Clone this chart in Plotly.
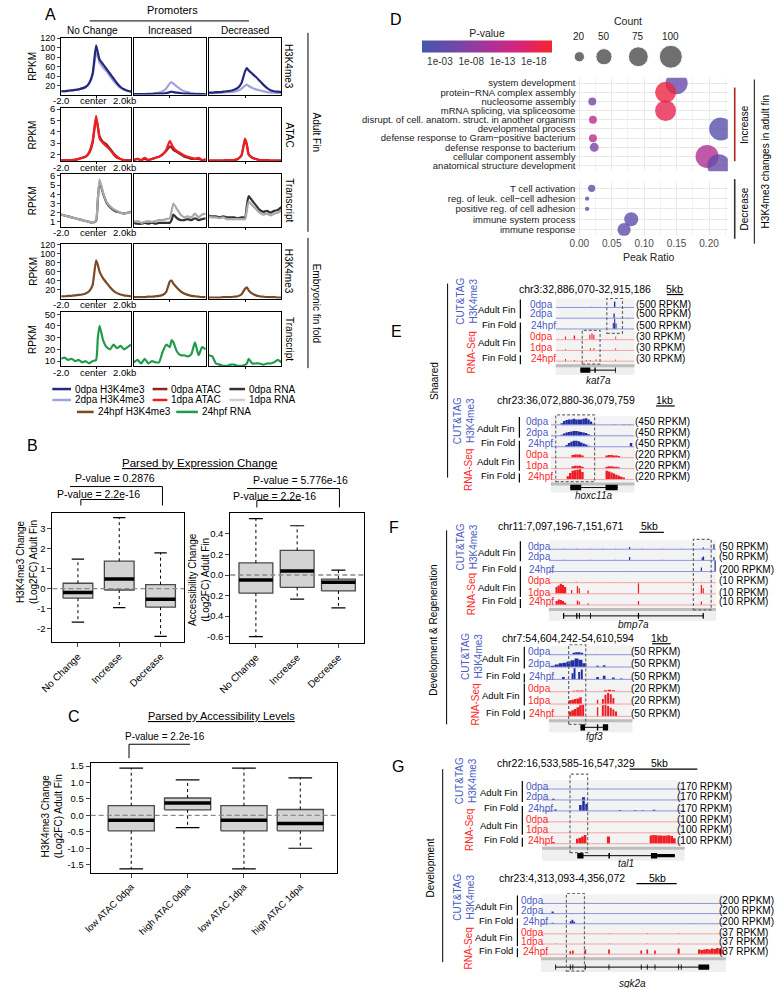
import plotly.graph_objects as go

W, H = 777, 988
FONT = "Liberation Sans, Arial, Helvetica, sans-serif"

# ================= Panel A : promoter profiles (RPKM) =================
A_X = [-2.0, -1.8, -1.6, -1.4, -1.2, -1.0, -0.8, -0.6, -0.4, -0.2, 0.0, 0.1,
       0.2, 0.4, 0.6, 0.8, 1.0, 1.2, 1.4, 1.6, 1.8, 2.0]
A_COLUMNS = ["No Change", "Increased", "Decreased"]
A_ROW_LABELS = ["H3K4me3", "ATAC", "Transcript", "H3K4me3", "Transcript"]

H3_0DPA = [[8, 8, 9, 10, 11, 12, 14, 17, 25, 45, 105, 90, 75, 65, 55, 45, 35, 25, 17, 12, 9, 7],
           [2, 2, 2, 2, 2, 2, 3, 3, 3, 4, 6, 7, 6, 5, 4, 3, 3, 2, 2, 2, 2, 2],
           [5, 5, 6, 6, 7, 8, 9, 11, 15, 25, 50, 57, 52, 45, 38, 30, 22, 15, 10, 8, 7, 6]]
H3_2DPA = [[8, 8, 9, 10, 11, 12, 14, 17, 24, 42, 88, 82, 68, 58, 50, 40, 30, 22, 15, 11, 9, 7],
           [2, 2, 2, 2, 3, 3, 4, 5, 8, 14, 25, 27, 24, 18, 12, 8, 6, 4, 3, 3, 2, 2],
           [4, 4, 4, 5, 5, 6, 6, 7, 9, 13, 20, 22, 19, 15, 12, 10, 8, 6, 5, 5, 4, 4]]
ATAC_0DPA = [[1.5, 1.5, 1.5, 1.5, 1.5, 1.6, 1.7, 1.8, 2.1, 3.0, 5.2, 4.5, 3.6, 3.1, 2.9, 2.5, 2.1, 1.8, 1.6, 1.5, 1.5, 1.5],
             [1.5, 1.6, 1.5, 1.6, 1.5, 1.6, 1.7, 1.8, 2.0, 2.3, 2.7, 2.6, 2.4, 2.2, 2.0, 1.8, 1.7, 1.6, 1.6, 1.6, 1.5, 1.5],
             [1.45, 1.45, 1.45, 1.45, 1.45, 1.5, 1.5, 1.5, 1.6, 1.9, 3.3, 2.8, 2.0, 1.7, 1.6, 1.5, 1.5, 1.5, 1.45, 1.45, 1.45, 1.45]]
ATAC_1DPA = [[1.5, 1.5, 1.5, 1.5, 1.55, 1.6, 1.7, 1.8, 2.2, 3.2, 5.4, 4.4, 3.4, 3.0, 2.7, 2.4, 2.0, 1.7, 1.6, 1.5, 1.5, 1.5],
             [1.5, 1.6, 1.5, 1.7, 1.5, 1.6, 1.7, 1.8, 2.0, 2.4, 3.2, 2.9, 2.6, 2.3, 2.1, 1.9, 1.8, 1.7, 1.6, 1.7, 1.5, 1.6],
             [1.45, 1.45, 1.45, 1.45, 1.45, 1.5, 1.5, 1.5, 1.6, 1.9, 3.4, 2.9, 2.0, 1.7, 1.6, 1.5, 1.5, 1.5, 1.45, 1.45, 1.45, 1.45]]
RNA_0DPA = [[1.8, 1.7, 1.6, 1.5, 1.4, 1.3, 1.2, 1.1, 1.0, 0.9, 1.1, 3.4, 5.4, 4.1, 3.1, 2.6, 2.3, 2.1, 2.0, 1.9, 2.0, 2.1],
            [0.9, 0.8, 0.8, 0.9, 0.8, 0.9, 0.8, 0.9, 0.9, 0.9, 0.9, 1.2, 1.8, 1.4, 1.2, 1.2, 1.3, 1.2, 1.4, 1.2, 1.3, 1.4],
            [1.7, 1.6, 1.6, 1.5, 1.6, 1.5, 1.5, 1.5, 1.4, 1.5, 1.5, 2.8, 3.8, 3.3, 2.8, 2.3, 2.1, 2.2, 2.0, 2.2, 2.3, 2.6]]
RNA_1DPA = [[1.8, 1.7, 1.6, 1.5, 1.4, 1.3, 1.2, 1.1, 1.0, 0.9, 1.2, 3.5, 5.6, 4.2, 3.2, 2.7, 2.4, 2.2, 2.0, 1.9, 2.0, 2.1],
            [1.0, 1.1, 0.9, 1.0, 1.1, 1.0, 1.1, 1.2, 1.2, 1.3, 1.4, 2.2, 3.0, 2.4, 1.8, 1.5, 1.6, 1.5, 1.9, 1.5, 1.8, 1.9],
            [1.6, 1.5, 1.5, 1.4, 1.5, 1.3, 1.3, 1.3, 1.3, 1.3, 1.3, 2.3, 3.2, 2.8, 2.4, 2.0, 1.8, 1.9, 1.7, 1.9, 2.0, 2.3]]
H3_24HPF = [[5, 5, 6, 6, 7, 8, 9, 11, 16, 30, 85, 75, 60, 45, 35, 25, 17, 12, 9, 7, 6, 5],
            [3, 3, 3, 3, 4, 4, 5, 6, 8, 15, 38, 40, 33, 24, 16, 11, 8, 6, 5, 4, 3, 3],
            [2, 2, 2, 2, 3, 3, 3, 4, 5, 9, 22, 25, 18, 11, 7, 5, 4, 3, 3, 3, 2, 2]]
RNA_24HPF = [[12, 13, 11, 12, 10, 11, 9, 10, 8, 10, 11, 30, 40, 28, 22, 20, 24, 21, 23, 20, 22, 24],
             [9, 11, 8, 12, 8, 10, 9, 9, 18, 24, 22, 28, 26, 18, 15, 15, 14, 16, 26, 15, 22, 20],
             [15, 14, 8, 7, 6, 6, 7, 7, 6, 6, 7, 8, 12, 8, 8, 8, 7, 8, 8, 9, 11, 9]]

A_LEGEND = [["0dpa H3K4me3", "0dpa ATAC", "0dpa RNA"],
            ["2dpa H3K4me3", "1dpa ATAC", "1dpa RNA"],
            ["24hpf H3K4me3", "24hpf RNA"]]

# ================= Panel B / C : boxplot statistics =================
B_CATS = ["No Change", "Increase", "Decrease"]
B1_LOW = [-1.68, -0.95, -2.40]
B1_Q1 = [-0.48, -0.07, -0.93]
B1_MED = [-0.20, 0.48, -0.53]
B1_Q3 = [0.27, 1.38, 0.20]
B1_HIGH = [1.48, 3.57, 1.80]
B1_PVAL = ["P-value = 0.2876", "P-value = 2.2e-16"]

B2_LOW = [-0.60, -0.235, -0.32]
B2_Q1 = [-0.177, -0.12, -0.155]
B2_MED = [-0.048, 0.04, -0.07]
B2_Q3 = [0.118, 0.24, -0.04]
B2_HIGH = [0.55, 0.48, 0.048]
B2_PVAL = ["P-value = 5.776e-16", "P-value = 2.2e-16"]

C_CATS = ["low ATAC 0dpa", "high ATAC 0dpa", "low ATAC 1dpa", "high ATAC 1dpa"]
C_LOW = [-1.63, -0.37, -1.63, -1.00]
C_Q1 = [-0.47, 0.17, -0.47, -0.47]
C_MED = [-0.15, 0.38, -0.15, -0.25]
C_Q3 = [0.295, 0.53, 0.295, 0.18]
C_HIGH = [1.44, 1.08, 1.44, 1.14]
C_PVAL = "P-value = 2.2e-16"

# ================= Panel D : GO enrichment dot plot =================
D_TERMS_UP = ["system development", "protein\u2212RNA complex assembly", "nucleosome assembly",
              "mRNA splicing, via spliceosome", "disrupt. of cell. anatom. struct. in another organism",
              "developmental process", "defense response to Gram\u2212positive bacterium",
              "defense response to bacterium", "cellular component assembly",
              "anatomical structure development"]
D_RATIO_UP = [0.150, 0.133, 0.020, 0.133, 0.021, 0.218, 0.021, 0.023, 0.197, 0.215]
D_LOGP_UP = [4.5, 19.5, 6.0, 18.5, 13.0, 2.5, 12.0, 6.5, 11.5, 4.5]
D_COUNT_UP = [92, 83, 12, 83, 12, 100, 12, 15, 100, 100]
D_TERMS_DN = ["T cell activation", "reg. of leuk. cell\u2212cell adhesion", "positive reg. of cell adhesion",
              "immune system process", "immune response"]
D_RATIO_DN = [0.019, 0.012, 0.012, 0.080, 0.069]
D_LOGP_DN = [4.0, 3.0, 3.0, 3.5, 4.0]
D_COUNT_DN = [10, 3.5, 3.5, 37, 33]
D_PTICKS = [3, 8, 13, 18]
D_PTICK_TEXT = ["1e-03", "1e-08", "1e-13", "1e-18"]
D_COUNT_LEGEND = [20, 50, 75, 100]
D_RATIO_TICKS = [0.0, 0.05, 0.10, 0.15, 0.20]

# ================= Panels E-G : genome browser loci =================
LOCUS_NAMES = ["kat7a", "hoxc11a", "bmp7a", "fgf3", "tal1", "sgk2a"]
LOCUS_COORDS = ["chr3:32,886,070-32,915,186", "chr23:36,072,880-36,079,759",
                "chr11:7,097,196-7,151,671", "chr7:54,604,242-54,610,594",
                "chr22:16,533,585-16,547,329", "chr23:4,313,093-4,356,072"]
LOCUS_KB = [29.12, 6.88, 54.48, 6.35, 13.74, 42.98]
LOCUS_SCALE = ["5kb", "1kb", "5kb", "1kb", "5kb", "5kb"]
RPKM_H3 = [[500, 500, 500], [450, 450, 450], [50, 50, 200], [50, 50, 50], [170, 170, 170], [200, 200, 200]]
RPKM_RNA = [[30, 30, 30], [220, 220, 220], [10, 10, 10], [20, 20, 50], [100, 100, 100], [37, 37, 37]]
H3_TRACKS = ["0dpa", "2dpa", "24hpf"]
RNA_TRACKS = ["0dpa", "1dpa", "24hpf"]

# peaks: (position kb, width kb, height as fraction of track scale)
KAT7A_H3 = [[(13.1, 0.3, 0.06), (21.8, 0.5, 0.55), (26.5, 0.4, 0.04), (28.0, 0.4, 0.04)],
            [(21.6, 0.5, 0.45), (26.5, 0.4, 0.05)],
            [(21.3, 0.4, 0.55), (21.8, 0.4, 0.95), (22.3, 0.4, 0.5)]]
KAT7A_RNA = [[(3.6, 0.4, 0.3), (6.9, 0.5, 0.4), (12.6, 0.4, 0.45), (13.4, 0.4, 0.6), (14.1, 0.4, 0.45), (22.2, 0.3, 0.3)],
             [(3.6, 0.4, 0.1), (12.8, 0.4, 0.2), (14.1, 0.4, 0.2), (22.2, 0.3, 0.2)],
             [(3.6, 0.4, 0.2), (6.9, 0.4, 0.1), (11.3, 0.4, 0.1), (12.8, 0.4, 0.1), (14.9, 0.4, 0.15), (22.2, 0.3, 0.15)]]
KAT7A_EXONS = [(9.1, 12.8, 1), (14.3, 14.8, 1), (22.0, 22.3, 1)]

HOXC11A_H3 = [[(0.9, 0.2, 0.15), (1.1, 0.2, 0.35), (1.3, 0.2, 0.45), (1.5, 0.2, 0.5), (1.7, 0.2, 0.5), (1.9, 0.2, 0.55),
               (2.1, 0.2, 0.5), (2.3, 0.2, 0.5), (2.5, 0.2, 0.5), (2.7, 0.2, 0.55), (2.9, 0.2, 0.6), (3.1, 0.2, 0.5),
               (3.3, 0.2, 0.3), (3.5, 0.2, 0.1), (5.2, 0.3, 0.04), (6.0, 0.3, 0.04), (6.5, 0.3, 0.04)],
              [(0.9, 0.2, 0.1), (1.1, 0.2, 0.2), (1.3, 0.2, 0.3), (1.5, 0.2, 0.35), (1.7, 0.2, 0.4), (1.9, 0.2, 0.45),
               (2.1, 0.2, 0.45), (2.3, 0.2, 0.4), (2.5, 0.2, 0.35), (2.7, 0.2, 0.3), (2.9, 0.2, 0.25), (3.1, 0.2, 0.15),
               (3.3, 0.2, 0.05)],
              [(1.3, 0.2, 0.15), (1.5, 0.2, 0.35), (1.7, 0.2, 0.45), (1.9, 0.2, 0.55), (2.1, 0.2, 0.55), (2.3, 0.2, 0.5),
               (2.5, 0.2, 0.4), (2.7, 0.2, 0.3), (2.9, 0.2, 0.2), (3.1, 0.2, 0.1), (6.6, 0.2, 0.35)]]
HOXC11A_RNA = [[(1.8, 0.2, 0.25), (2.0, 0.2, 0.3), (2.2, 0.2, 0.3), (2.4, 0.2, 0.3), (2.6, 0.2, 0.2),
                (4.6, 0.2, 0.2), (4.8, 0.2, 0.25), (5.0, 0.2, 0.25), (5.2, 0.2, 0.2), (5.4, 0.2, 0.2), (5.6, 0.2, 0.15)],
               [(1.8, 0.2, 0.22), (2.0, 0.2, 0.27), (2.2, 0.2, 0.27), (2.4, 0.2, 0.27), (2.6, 0.2, 0.18),
                (4.6, 0.2, 0.18), (4.8, 0.2, 0.22), (5.0, 0.2, 0.22), (5.2, 0.2, 0.18), (5.4, 0.2, 0.17), (5.6, 0.2, 0.12)],
               [(1.4, 0.2, 0.3), (1.6, 0.2, 0.6), (1.8, 0.2, 0.8), (2.0, 0.2, 0.85), (2.2, 0.2, 0.9), (2.4, 0.2, 0.95),
                (2.6, 0.2, 0.7), (4.6, 0.2, 0.8), (4.8, 0.2, 0.75), (5.0, 0.2, 0.65), (5.2, 0.2, 0.55), (5.4, 0.2, 0.45),
                (5.6, 0.2, 0.35), (5.8, 0.2, 0.25), (6.0, 0.2, 0.2)]]
HOXC11A_EXONS = [(1.6, 2.5, 1), (4.5, 5.5, 1)]

BMP7A_H3 = [[(4.8, 0.3, 0.05), (9.0, 0.3, 0.05), (13.5, 0.3, 0.05), (17.6, 0.3, 0.05), (21.8, 0.3, 0.05),
             (26.3, 0.4, 0.2), (30.4, 0.3, 0.05), (36.9, 0.3, 0.05), (43.3, 0.3, 0.05), (50.3, 0.4, 0.15), (53.8, 0.4, 0.45)],
            [(4.8, 0.3, 0.05), (13.5, 0.3, 0.05), (21.8, 0.3, 0.05), (26.3, 0.4, 0.3), (36.9, 0.3, 0.05),
             (50.0, 0.4, 0.25), (50.4, 0.4, 0.35), (53.8, 0.4, 0.3)],
            [(26.3, 0.3, 0.05), (49.7, 0.4, 0.35), (54.2, 0.4, 0.95)]]
BMP7A_RNA = [[(4.8, 0.3, 0.08), (7.0, 0.3, 0.06), (9.0, 0.3, 0.08), (13.5, 0.3, 0.06), (20.0, 0.3, 0.05),
              (26.3, 0.3, 0.05), (29.2, 0.3, 0.06), (49.7, 0.3, 0.08)],
             [(2.5, 0.7, 0.6), (3.2, 0.7, 0.75), (3.9, 0.7, 0.9), (4.6, 0.7, 0.8), (5.3, 0.7, 0.6), (7.4, 0.4, 0.35),
              (9.3, 0.4, 0.7), (9.9, 0.4, 0.5), (12.8, 0.4, 0.3), (29.2, 0.4, 0.95), (49.7, 0.4, 0.8), (50.3, 0.4, 0.5)],
             [(2.5, 0.7, 0.35), (3.2, 0.7, 0.5), (3.9, 0.7, 0.45), (4.6, 0.7, 0.35), (5.3, 0.7, 0.2), (9.3, 0.4, 0.4),
              (9.9, 0.4, 0.3), (12.8, 0.4, 0.15), (29.2, 0.4, 0.35), (49.7, 0.4, 0.3)]]
BMP7A_EXONS = [(4.6, 5.0, 1), (8.9, 9.3, 1), (9.8, 10.1, 1), (13.4, 13.7, 1), (29.0, 29.4, 1), (50.1, 50.5, 1)]

FGF3_H3 = [[(1.9, 0.2, 0.15), (2.1, 0.2, 0.2), (2.3, 0.2, 0.2), (2.5, 0.2, 0.15), (3.5, 0.2, 0.04)],
           [(0.3, 0.3, 0.1), (0.6, 0.3, 0.2), (0.9, 0.3, 0.3), (1.2, 0.3, 0.35), (1.5, 0.3, 0.45), (1.8, 0.3, 0.55),
            (2.1, 0.3, 0.7), (2.4, 0.3, 0.6), (2.7, 0.3, 0.3), (3.7, 0.2, 0.1), (4.2, 0.2, 0.15)],
           [(1.1, 0.2, 0.2), (1.8, 0.15, 0.5), (1.95, 0.15, 0.9), (2.3, 0.15, 0.6), (2.5, 0.15, 0.8), (3.7, 0.2, 0.2),
            (4.2, 0.2, 0.3), (4.9, 0.2, 0.15), (5.5, 0.2, 0.08)]]
FGF3_RNA = [[(1.9, 0.25, 0.08), (2.2, 0.25, 0.1), (2.5, 0.25, 0.1), (4.3, 0.25, 0.12), (4.6, 0.25, 0.15), (4.9, 0.25, 0.12)],
            [(1.6, 0.2, 0.3), (1.8, 0.2, 0.35), (2.0, 0.2, 0.4), (2.2, 0.2, 0.45), (2.4, 0.2, 0.55), (3.7, 0.1, 0.35),
             (4.1, 0.15, 0.4), (4.3, 0.15, 0.75), (4.5, 0.15, 0.9), (4.7, 0.15, 0.8), (4.9, 0.15, 0.5)],
            [(1.6, 0.2, 0.4), (1.8, 0.2, 0.5), (2.0, 0.2, 0.6), (2.2, 0.2, 0.75), (2.4, 0.2, 0.9), (2.6, 0.15, 0.95),
             (3.7, 0.1, 0.75), (4.1, 0.15, 0.9), (4.3, 0.15, 0.95), (4.5, 0.15, 0.85), (4.7, 0.15, 0.7),
             (4.9, 0.15, 0.55), (5.1, 0.15, 0.4)]]
FGF3_EXONS = [(2.4, 2.75, 1), (3.65, 3.75, 1), (4.1, 4.5, 1)]

TAL1_H3 = [[],
           [(1.1, 0.25, 0.12), (4.0, 0.3, 0.25)],
           [(1.3, 0.25, 0.12), (3.7, 0.25, 0.55), (4.0, 0.25, 0.95), (4.3, 0.25, 0.65), (7.5, 0.25, 0.08),
            (9.0, 0.25, 0.05), (9.7, 0.25, 0.05), (10.8, 0.25, 0.1)]]
TAL1_RNA = [[], [],
            [(1.1, 0.25, 0.15), (3.4, 0.25, 0.45), (3.65, 0.25, 0.55), (3.9, 0.25, 0.65), (4.15, 0.25, 0.8),
             (6.4, 0.3, 0.65), (10.5, 0.25, 0.75), (10.75, 0.25, 0.8), (11.0, 0.25, 0.78), (11.25, 0.25, 0.75),
             (11.5, 0.25, 0.75), (11.75, 0.25, 0.72), (12.0, 0.25, 0.75), (12.25, 0.25, 0.78), (12.5, 0.25, 0.7),
             (12.75, 0.25, 0.5)]]
TAL1_EXONS = [(3.4, 4.0, 1), (6.4, 6.55, 1), (10.5, 11.1, 1), (11.1, 12.8, 0.6)]

SGK2A_H3 = [[(16.0, 0.3, 0.05), (24.7, 0.3, 0.05), (35.7, 0.3, 0.05)],
            [(2.7, 0.5, 0.2), (16.0, 0.3, 0.05), (24.7, 0.3, 0.05)],
            [(2.7, 0.5, 0.1), (6.9, 0.4, 0.25), (7.3, 0.4, 0.4), (7.7, 0.4, 0.2), (35.4, 0.3, 0.05)]]
SGK2A_RNA = [[(16.0, 0.3, 0.08), (24.7, 0.3, 0.08), (32.0, 0.3, 0.08)],
             [(3.4, 0.3, 0.05), (16.0, 0.3, 0.06), (24.7, 0.3, 0.06), (32.0, 0.3, 0.06)],
             [(6.8, 0.4, 0.3), (7.4, 0.4, 0.35), (10.3, 0.4, 0.45), (15.8, 0.4, 0.45), (23.3, 0.4, 0.35),
              (24.7, 0.4, 0.45), (26.5, 0.4, 0.35), (32.0, 0.5, 0.55), (36.8, 0.6, 0.45), (37.4, 0.6, 0.4),
              (38.0, 0.6, 0.45), (38.6, 0.6, 0.5), (39.2, 0.6, 0.45), (39.8, 0.6, 0.55), (40.4, 0.6, 0.5),
              (41.0, 0.6, 0.6), (41.6, 0.6, 0.55), (42.2, 0.6, 0.45)]]
SGK2A_EXONS = [(3.3, 3.5, 1), (6.7, 6.9, 1), (7.3, 7.5, 1), (10.2, 10.4, 1), (15.7, 15.9, 1), (23.2, 23.4, 1),
               (24.6, 24.8, 1), (26.4, 26.6, 1), (31.9, 32.1, 1), (32.5, 32.7, 1), (36.6, 39.1, 1)]

LOCUS_H3 = [KAT7A_H3, HOXC11A_H3, BMP7A_H3, FGF3_H3, TAL1_H3, SGK2A_H3]
LOCUS_RNA = [KAT7A_RNA, HOXC11A_RNA, BMP7A_RNA, FGF3_RNA, TAL1_RNA, SGK2A_RNA]
LOCUS_EXONS = [KAT7A_EXONS, HOXC11A_EXONS, BMP7A_EXONS, FGF3_EXONS, TAL1_EXONS, SGK2A_EXONS]
LOCUS_HIGHLIGHT_KB = [[(18.9, 24.7), (9.8, 16.4)], [(0.4, 3.6)], [(47.1, 52.9)], [(1.5, 2.8)], [(2.7, 4.4)], [(5.9, 10.1)]]
GROUP_LABELS = ["Shaared", "Development &amp; Regeneration", "Development"]

# ================= helpers =================
fig = go.Figure()
ann, shapes, axes = [], [], {}
counter = [0]


def X(p):
    return p / W


def Y(p):
    return 1 - p / H


def add_axes(xd, yd, xr, yr, xopt=None, yopt=None):
    counter[0] += 1
    s = '' if counter[0] == 1 else str(counter[0])
    base = dict(showgrid=False, zeroline=False, showticklabels=False, ticks='', fixedrange=True, showline=False)
    xa = dict(base, domain=[X(xd[0]), X(xd[1])], range=xr, anchor='y' + s)
    ya = dict(base, domain=[Y(yd[1]), Y(yd[0])], range=yr, anchor='x' + s)
    if xopt:
        xa.update(xopt)
    if yopt:
        ya.update(yopt)
    axes['xaxis' + s] = xa
    axes['yaxis' + s] = ya
    return 'x' + s, 'y' + s


def text(x, y, s, size=10, color='black', xa='center', ya='middle', angle=0):
    ann.append(dict(x=X(x), y=Y(y), xref='paper', yref='paper', text=s, showarrow=False,
                    font=dict(size=size, color=color, family=FONT), xanchor=xa, yanchor=ya,
                    textangle=angle, borderpad=0))


def seg(x0, y0, x1, y1, color='black', width=1, dash='solid'):
    shapes.append(dict(type='line', xref='paper', yref='paper', x0=X(x0), y0=Y(y0), x1=X(x1), y1=Y(y1),
                       line=dict(color=color, width=width, dash=dash)))


def rect(x0, y0, x1, y1, fill):
    shapes.append(dict(type='rect', xref='paper', yref='paper', x0=X(x0), y0=Y(y1), x1=X(x1), y1=Y(y0),
                       fillcolor=fill, line=dict(width=0), layer='below'))


FRAME = dict(showline=True, mirror=True, linecolor='black', linewidth=1)

# ================= Panel A =================
C_H3_0, C_H3_2 = '#25297c', '#a1a3df'
C_AT_0, C_AT_1 = '#8e2424', '#f01e23'
C_RNA_0, C_RNA_1 = '#333333', '#a9a9a9'
C_BROWN, C_GREEN = '#7a4a26', '#229a4c'

A_COLX = [(49, 120), (123, 196), (199, 273)]
A_ROWY = [(33, 90), (104, 157), (170, 223), (240, 295), (309, 363)]
A_ROWS = [
    ([(H3_2DPA, C_H3_2), (H3_0DPA, C_H3_0)], [1, 121], [20, 40, 60, 80, 100, 120]),
    ([(ATAC_0DPA, C_AT_0), (ATAC_1DPA, C_AT_1)], [1.4, 6.05], [2, 3, 4, 5, 6]),
    ([(RNA_0DPA, C_RNA_0), (RNA_1DPA, C_RNA_1)], [0.46, 6.2], [1, 2, 3, 4, 5, 6]),
    ([(H3_24HPF, C_BROWN)], [0, 122], [20, 40, 60, 80, 100, 120]),
    ([(RNA_24HPF, C_GREEN)], [5.7, 51.5], [10, 20, 30, 40, 50]),
]
for r, (series, yr, yt) in enumerate(A_ROWS):
    for c in range(3):
        xo = dict(FRAME, tickvals=[0], ticks='outside', ticklen=2, tickcolor='black')
        yo = dict(FRAME)
        if c == 0:
            yo.update(tickvals=yt, ticks='outside', ticklen=3, showticklabels=True,
                      tickfont=dict(size=9 if len(yt) == 6 and yt[-1] > 10 else 9.5, color='black', family=FONT))
        xa, ya = add_axes(A_COLX[c], A_ROWY[r], [-2, 2], yr, xo, yo)
        for vals, col in series:
            fig.add_trace(go.Scatter(x=A_X, y=vals[c], mode='lines', line=dict(color=col, width=2.2, shape='spline', smoothing=0.5),
                                     xaxis=xa, yaxis=ya, hoverinfo='skip'))
    yb = A_ROWY[r][1]
    text(49, yb + 6, "-2.0", 9.5)
    text(81, yb + 6, "center", 9.5)
    text(113, yb + 6, "2.0kb", 9.5)
    text(20, (A_ROWY[r][0] + A_ROWY[r][1]) / 2, "RPKM", 10, angle=-90)
    text(281, (A_ROWY[r][0] + A_ROWY[r][1]) / 2, A_ROW_LABELS[r], 10, angle=90)

for c, name in enumerate(A_COLUMNS):
    text((A_COLX[c][0] + A_COLX[c][1]) / 2 - (4 if c == 0 else 0), 26, name, 10)
text(162, 5, "Promoters", 11)
seg(78, 16, 240, 16, width=1)
seg(300, 28, 300, 228, width=1)
text(309, 128, "Adult Fin", 10, angle=90)
seg(300, 234, 300, 365, width=1)
text(309, 300, "Embryonic fin fold", 10, angle=90)

LEG_POS = [[(40, 59, 386), (142, 157, 386), (220, 236, 386)],
           [(40, 59, 397), (142, 157, 397), (220, 236, 397)],
           [(65, 82, 409), (166, 188, 409)]]
LEG_COL = [[C_H3_0, C_AT_0, C_RNA_0], [C_H3_2, C_AT_1, '#cfcfcf'], [C_BROWN, C_GREEN]]
for i, row in enumerate(A_LEGEND):
    for j, name in enumerate(row):
        x0, x1, yy = LEG_POS[i][j]
        seg(x0, yy, x1, yy, LEG_COL[i][j], 2.5)
        text(x1 + 3, yy, name, 10, xa='left')

# ================= Panels B & C (boxplots) =================


def boxpanel(xd, yd, xr, yr, cats, low, q1, med, q3, high, half, cap, yticks, tickfmt, catsize=10):
    xo = dict(FRAME, tickvals=list(range(len(cats))), ticktext=cats, tickangle=-45, ticks='outside', ticklen=4,
              showticklabels=True, tickfont=dict(size=catsize, color='black', family=FONT))
    yo = dict(FRAME, tickvals=yticks, ticktext=[tickfmt(v) for v in yticks], ticks='outside',
              ticklen=4, showticklabels=True, tickfont=dict(size=9.5, color='black', family=FONT))
    xa, ya = add_axes(xd, yd, xr, yr, xo, yo)
    for i in range(len(cats)):
        fig.add_trace(go.Scatter(x=[i - half, i + half, i + half, i - half, i - half],
                                 y=[q1[i], q1[i], q3[i], q3[i], q1[i]], mode='lines', fill='toself',
                                 fillcolor='#d3d3d3', line=dict(color='#4a4a4a', width=1.3),
                                 xaxis=xa, yaxis=ya, hoverinfo='skip'))
    wx, wy, cx, cy, mx, my = [], [], [], [], [], []
    for i in range(len(cats)):
        wx += [i, i, None, i, i, None]
        wy += [q3[i], high[i], None, q1[i], low[i], None]
        cx += [i - cap, i + cap, None, i - cap, i + cap, None]
        cy += [high[i], high[i], None, low[i], low[i], None]
        mx += [i - half, i + half, None]
        my += [med[i], med[i], None]
    fig.add_trace(go.Scatter(x=wx, y=wy, mode='lines', line=dict(color='black', width=1, dash='3px,3px'),
                             xaxis=xa, yaxis=ya, hoverinfo='skip'))
    fig.add_trace(go.Scatter(x=cx, y=cy, mode='lines', line=dict(color='black', width=1.2),
                             xaxis=xa, yaxis=ya, hoverinfo='skip'))
    fig.add_trace(go.Scatter(x=mx, y=my, mode='lines', line=dict(color='black', width=3.5),
                             xaxis=xa, yaxis=ya, hoverinfo='skip'))
    shapes.append(dict(type='line', xref=xa + ' domain', yref=ya, x0=0, x1=1, y0=0, y1=0,
                       line=dict(color='#8a8a8a', width=1.3, dash='5px,3px'), layer='above'))


boxpanel((40, 174), (511, 640), [-0.62, 2.57], [-2.67, 3.78], B_CATS, B1_LOW, B1_Q1, B1_MED, B1_Q3, B1_HIGH,
         0.36, 0.15, [-2, -1, 0, 1, 2, 3], lambda v: str(v))
boxpanel((221, 357), (511, 641), [-0.62, 2.62], [-0.66, 0.60], B_CATS, B2_LOW, B2_Q1, B2_MED, B2_Q3, B2_HIGH,
         0.41, 0.17, [-0.6, -0.4, -0.2, 0.0, 0.2, 0.4], lambda v: "%.1f" % v)
boxpanel((79, 330), (762, 872), [-0.72, 3.66], [-1.74, 1.59], C_CATS, C_LOW, C_Q1, C_MED, C_Q3, C_HIGH,
         0.41, 0.21, [-1.5, -1.0, -0.5, 0.0, 0.5, 1.0, 1.5], lambda v: "%.1f" % v, catsize=9.5)

text(20, 443, "B", 16)
text(190, 460, "<u>Parsed by Expression Change</u>", 11.5)
text(14, 560, "H3K4me3 Change<br>(Log2FC) Adult Fin", 10, angle=-90)
text(189, 577, "Accessibility Change<br>(Log2FC) Adult Fin", 10, angle=-90)
text(104, 475, B1_PVAL[0], 10.5)
seg(58, 484, 152, 484)
seg(152, 484, 152, 503)
text(87, 491, B1_PVAL[1], 10.5)
seg(69, 497, 113, 497)
seg(69, 497, 69, 503)
text(292, 477, B2_PVAL[0], 10.5)
seg(238, 486, 332, 486)
seg(332, 486, 332, 505)
text(266, 493, B2_PVAL[1], 10.5)
seg(248, 498, 293, 498)
seg(248, 498, 248, 505)

text(62, 715, "C", 16)
text(212, 715, "<u>Parsed by Accessibility Levels</u>", 11)
text(155, 735, C_PVAL, 10)
seg(118, 743, 180, 743)
seg(118, 743, 118, 757)
text(40, 815, "H3K4me3 Change<br>(Log2FC) Adult Fin", 10, angle=-90)

# ================= Panel D =================
CS = [[0.0, '#4456b0'], [0.25, '#6e49a8'], [0.5, '#a8329a'], [0.75, '#d8237a'], [1.0, '#f4262c']]
CMIN, CMAX = 0.13, 20.9
SIZEREF = 2.0 * 100 / 23 ** 2
DX = [-0.0045, 0.229]
grid_x = dict(showgrid=True, gridcolor='#e8e8e8', gridwidth=1, tickvals=D_RATIO_TICKS,
              minor=dict(tickvals=[0.025, 0.075, 0.125, 0.175, 0.225], showgrid=True, gridcolor='#f3f3f3'))
cat_font = dict(size=9.5, color='#1a1a1a', family=FONT)
xa, ya = add_axes((573, 727), (73, 167), DX, [len(D_TERMS_UP) - 0.4, -0.6], dict(grid_x),
                  dict(type='category', categoryorder='array', categoryarray=D_TERMS_UP, showgrid=True,
                       gridcolor='#e8e8e8', showticklabels=True, tickmode='array', tickvals=D_TERMS_UP,
                       ticktext=D_TERMS_UP, tickfont=cat_font))
fig.add_trace(go.Scatter(x=D_RATIO_UP, y=D_TERMS_UP, mode='markers', xaxis=xa, yaxis=ya, hoverinfo='skip',
                         marker=dict(size=D_COUNT_UP, sizemode='area', sizeref=SIZEREF, color=D_LOGP_UP,
                                     cmin=CMIN, cmax=CMAX, colorscale=CS, opacity=0.8, line=dict(width=0),
                                     showscale=True,
                                     colorbar=dict(orientation='h', x=X(482), y=Y(41), xanchor='center',
                                                   yanchor='middle', len=130, lenmode='pixels', thickness=12,
                                                   xpad=0, ypad=0, outlinewidth=0, tickvals=D_PTICKS,
                                                   ticktext=D_PTICK_TEXT, tickangle=0,
                                                   ticks='', tickfont=dict(size=10, color='#333', family=FONT),
                                                   title=dict(text='P-value', side='top',
                                                              font=dict(size=10.5, color='#222', family=FONT))))))
xa, ya = add_axes((573, 727), (178, 232), DX, [len(D_TERMS_DN) - 0.4, -0.6],
                  dict(grid_x, showticklabels=True, ticktext=["%.2f" % v for v in D_RATIO_TICKS],
                       tickfont=dict(size=10, color='#4d4d4d', family=FONT)),
                  dict(type='category', categoryorder='array', categoryarray=D_TERMS_DN, showgrid=True,
                       gridcolor='#e8e8e8', showticklabels=True, tickmode='array', tickvals=D_TERMS_DN,
                       ticktext=D_TERMS_DN, tickfont=cat_font))
fig.add_trace(go.Scatter(x=D_RATIO_DN, y=D_TERMS_DN, mode='markers', xaxis=xa, yaxis=ya, hoverinfo='skip',
                         marker=dict(size=D_COUNT_DN, sizemode='area', sizeref=SIZEREF, color=D_LOGP_DN,
                                     cmin=CMIN, cmax=CMAX, colorscale=CS, opacity=0.8, line=dict(width=0),
                                     showscale=False)))
# count legend
LEG_X = [576, 601, 636, 669]
xa, ya = add_axes((560, 690), (40, 64), [560, 690], [0, 1])
fig.add_trace(go.Scatter(x=LEG_X, y=[0.5] * 4, mode='markers', xaxis=xa, yaxis=ya, hoverinfo='skip',
                         marker=dict(size=D_COUNT_LEGEND, sizemode='area', sizeref=SIZEREF, color='#333333')))
for lx, n in zip(LEG_X, D_COUNT_LEGEND):
    text(lx, 32, str(n), 10, '#222')
text(625, 16, "Count", 10.5, '#222')
text(647, 253, "Peak Ratio", 10.5, '#222')
seg(734, 83, 734, 157, '#b22222', 1.6)
text(744, 120, "Increase", 10, angle=-90)
seg(734, 175, 734, 235, '#333', 1.6)
text(744, 205, "Decrease", 10, angle=-90)
seg(754, 75, 754, 240, '#333', 1.2)
text(765, 158, "H3K4me3 changes in adult fin", 10, angle=-90)

# ================= Panels E-G (genome tracks) =================
BLUE, BLUE_L, BLUE_T = '#1f2ea3', '#8e95de', '#4d5cc2'
RED, RED_L, RED_T = '#ee1c24', '#f6a3a3', '#ff2a2a'
GEOM = [
    dict(x0=552, x1=632, base=[304, 313, 325, 336, 347, 358], gene=367, name=377, title=(582, 285), scale=(673, 665, 682),
         lab=537, adult=513, rpkm=633, side=462, cut=298, rna=349, boxy=[(295, 330), (327, 361)]),
    dict(x0=547, x1=632, base=[422, 433, 444, 455, 466, 477], gene=485, name=493, title=(562, 397), scale=(663, 654, 673),
         lab=533, adult=512, rpkm=632, side=459, cut=418, rna=467, boxy=[(412, 479)]),
    dict(x0=545, x1=715, base=[547, 557, 570, 581, 593, 603], gene=614, name=623, title=(557, 524), scale=(647, 637, 662),
         lab=535, adult=513, rpkm=717, side=462, cut=545, rna=592, boxy=[(537, 608)]),
    dict(x0=545, x1=630, base=[653, 665, 678, 690, 702, 715], gene=726, name=735, title=(564, 636), scale=(658, 650, 669),
         lab=535, adult=517, rpkm=627, side=466, cut=655, rna=703, boxy=[(643, 723)]),
    dict(x0=538, x1=683, base=[788, 799, 811, 822, 832, 843], gene=855, name=863, title=(562, 762), scale=(657, 627, 696),
         lab=533, adult=515, rpkm=674, side=461, cut=780, rna=829, boxy=[(773, 852)]),
    dict(x0=537, x1=725, base=[903, 913, 924, 935, 944, 954], gene=967, name=983, title=(558, 877), scale=(655, 634, 675),
         lab=528, adult=510, rpkm=717, side=459, cut=897, rna=948, boxy=[(893, 971)]),
]
for k, g in enumerate(GEOM):
    L = LOCUS_KB[k]
    b = g['base']
    s = (b[5] - b[0]) / 5.0
    top, bottom = b[0] - s, g['gene'] + 5
    xa, ya = add_axes((g['x0'], g['x1']), (top, bottom), [0, L], [-(bottom - b[0]) / s, 1.0])
    rect(g['x0'], b[0] - 9, g['x1'], b[5] + 3, '#f3f3f3')
    rect(g['x0'], b[5] + 3, g['x1'], g['gene'] + 5, '#efefef')
    rect(g['x0'], b[5] + 3, g['x1'], b[5] + 6, '#bdbdbd')
    tracks = LOCUS_H3[k] + LOCUS_RNA[k]
    for i, peaks in enumerate(tracks):
        col, lcol = (BLUE, BLUE_L) if i < 3 else (RED, RED_L)
        fig.add_trace(go.Scatter(x=[0, L], y=[-i, -i], mode='lines', line=dict(color=lcol, width=1),
                                 xaxis=xa, yaxis=ya, hoverinfo='skip'))
        if peaks:
            fig.add_trace(go.Bar(x=[p[0] for p in peaks], y=[p[2] for p in peaks], width=[p[1] for p in peaks],
                                 base=-i, marker=dict(color=col, line=dict(width=0)), xaxis=xa, yaxis=ya,
                                 hoverinfo='skip'))
    # gene model
    gy = -(g['gene'] - b[0]) / s
    ex = LOCUS_EXONS[k]
    gs, ge = min(e[0] for e in ex), max(e[1] for e in ex)
    fig.add_trace(go.Scatter(x=[gs, ge], y=[gy, gy], mode='lines', line=dict(color='black', width=1),
                             xaxis=xa, yaxis=ya, hoverinfo='skip'))
    fig.add_trace(go.Bar(x=[(e[0] + e[1]) / 2 for e in ex], y=[0.5 * e[2] for e in ex], width=[e[1] - e[0] for e in ex],
                         base=[gy - 0.25 * e[2] for e in ex], marker=dict(color='black', line=dict(width=0)),
                         xaxis=xa, yaxis=ya, hoverinfo='skip'))
    ann.append(dict(x=(gs + ge) / 2, y=Y(g['name']), xref=xa, yref='paper', text='<i>%s</i>' % LOCUS_NAMES[k],
                    showarrow=False, font=dict(size=10, color='#111', family=FONT), xanchor='center', yanchor='middle'))
    # highlight boxes
    for (k0, k1), (py0, py1) in zip(LOCUS_HIGHLIGHT_KB[k], g['boxy']):
        shapes.append(dict(type='rect', xref=xa, yref='paper', x0=k0, x1=k1, y0=Y(py1), y1=Y(py0),
                           line=dict(color='#6a6a6a', width=1.2, dash='3px,2px'), fillcolor='rgba(0,0,0,0)'))
    # titles / labels
    text(g['title'][0], g['title'][1], LOCUS_COORDS[k], 10.5)
    text(g['scale'][0], g['title'][1], LOCUS_SCALE[k], 10.5)
    seg(g['scale'][1], g['title'][1] + 6, g['scale'][2], g['title'][1] + 6, 'black', 1.2)
    for i in range(3):
        text(g['lab'] + (3 if i == 2 else 0), b[i] - 3, H3_TRACKS[i], 10, BLUE_T)
        text(g['lab'] + (3 if i == 2 else 0), b[i + 3] - 3, RNA_TRACKS[i], 10, RED_T)
        text(g['rpkm'], b[i] - 3, "(%d RPKM)" % RPKM_H3[k][i], 10, xa='left')
        text(g['rpkm'], b[i + 3] - 3, "(%d RPKM)" % RPKM_RNA[k][i], 10, xa='left')
    for o in (0, 3):
        text(g['adult'], (b[o] + b[o + 1]) / 2 - 2, "Adult Fin", 9.5, xa='right')
        text(g['adult'], b[o + 2] - 4, "Fin Fold", 9.5, xa='right')
        seg(g['adult'] + 3, b[o] - 8, g['adult'] + 3, b[o + 1] + 2, 'black', 1.2)
        seg(g['adult'] + 3, b[o + 2] - 6, g['adult'] + 3, b[o + 2] + 3, 'black', 1.2)
    text(g['side'], g['cut'], "CUT&amp;TAG<br>H3K4me3", 10, BLUE_T, angle=-90)
    text(g['side'] + 4, g['rna'], "RNA-Seq", 10, RED_T, angle=-90)

seg(442, 280, 442, 475)
text(428, 378, GROUP_LABELS[0], 10, angle=-90)
seg(441, 528, 441, 723)
text(428, 628, GROUP_LABELS[1], 10, angle=-90)
seg(437, 768, 437, 962)
text(425, 867, GROUP_LABELS[2], 10, angle=-90)

# panel letters
text(38, 10, "A", 16)
text(390, 15, "D", 16)
text(390, 328, "E", 16)
text(387, 525, "F", 16)
text(392, 765, "G", 16)

fig.update_layout(width=W, height=H, margin=dict(l=0, r=0, t=0, b=0), showlegend=False,
                  paper_bgcolor='white', plot_bgcolor='rgba(0,0,0,0)', barmode='overlay',
                  font=dict(family=FONT, size=10, color='black'),
                  annotations=ann, shapes=shapes, **axes)
fig.write_html("out.html", config={'displayModeBar': False, 'staticPlot': True},
               post_script="document.body.style.margin='0px';document.body.style.padding='0px';"
                           "document.body.style.overflow='hidden';")
